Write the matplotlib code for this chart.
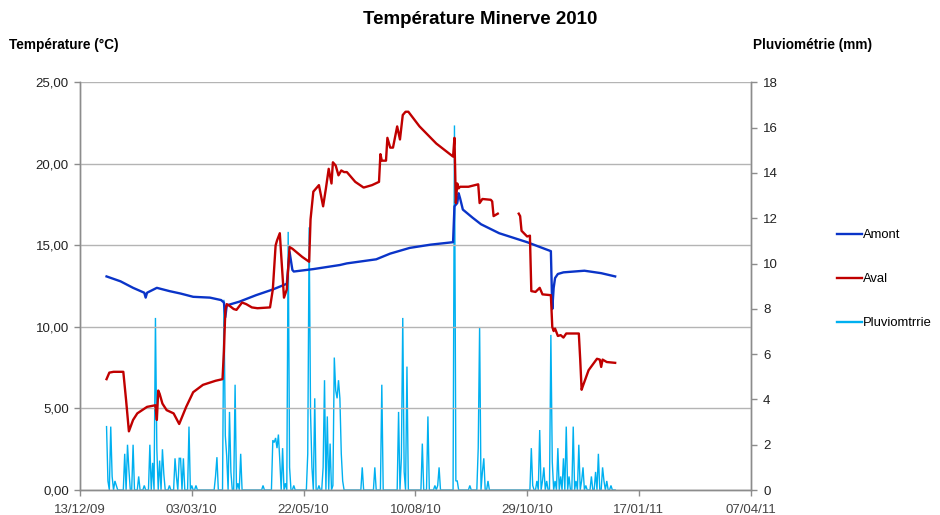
import numpy as np
import pandas as pd
import matplotlib
matplotlib.use("Agg")
import matplotlib.pyplot as plt
import matplotlib.dates as mdates
from matplotlib.lines import Line2D
from matplotlib.ticker import FuncFormatter

plt.rcParams['font.family'] = ['Liberation Sans', 'DejaVu Sans']

START = pd.Timestamp("2010-01-01")

# Température amont (°C) : jour de l'année (0 = 1er janvier 2010) et valeur
amont_day = [0, 10, 19, 27, 28, 29, 36, 45, 53, 62, 74, 82, 84, 85, 86, 87, 95, 107, 119, 129,
             131, 133, 134, 148, 167, 172, 193, 203, 217, 232, 248, 249, 251, 252, 253, 255,
             262, 268, 281, 301, 318, 319, 320, 321, 323, 327, 342, 354, 364]
amont_temp = [13.1, 12.8, 12.4, 12.1, 11.8, 12.1, 12.4, 12.2, 12.05, 11.85, 11.8, 11.65, 11.5, 10.6, 11.3,
              11.35, 11.55, 11.95, 12.3, 12.65, 14.6, 13.5, 13.4, 13.55, 13.8, 13.9, 14.15, 14.5,
              14.85, 15.05, 15.2, 17.4, 17.6, 18.2, 17.9, 17.2, 16.7, 16.3, 15.75, 15.2,
              14.65, 11.1, 12.4, 13.0, 13.25, 13.35, 13.45, 13.3, 13.1]

# Température aval (°C) ; NaN = lacune de mesure
aval_day = [0, 2, 5, 12, 14, 16, 19, 22, 29, 35, 36, 37, 38, 40, 43, 48, 52, 57, 62, 69, 78, 83,
            84, 85, 86, 88, 91, 93, 97, 100, 104, 108, 117, 119, 121, 122, 124, 125, 127, 129,
            131, 133, 140, 145, 146, 148, 152, 155, 157, 159, 161, 162, 164, 166, 168, 170, 172,
            178, 184, 190, 195, 196, 197, 200, 201, 203, 205, 208, 210, 212, 214, 216, 224,
            236, 248, 249, 250, 251, 252, 253, 259, 266, 267, 269, 275, 276, 277, 280, 288,
            295, 296, 297, 301, 303, 304, 307, 310, 312, 318, 319, 320, 321, 323, 325, 327, 329,
            338, 339, 340, 341, 345, 351, 353, 354, 355, 358, 364]
aval_temp = [6.8, 7.2, 7.25, 7.25, 5.5, 3.6, 4.3, 4.7, 5.1, 5.2, 4.3, 6.1, 5.9, 5.3, 4.9, 4.7,
             4.05, 5.1, 6.0, 6.45, 6.7, 6.8, 8.5, 11.0, 11.4, 11.3, 11.1, 11.05, 11.5, 11.4, 11.2,
             11.15, 11.2, 12.3, 15.0, 15.3, 15.75, 14.4, 11.8, 12.3, 14.9, 14.8, 14.3, 14.0,
             16.6, 18.3, 18.7, 17.4, 18.5, 19.7, 18.8, 20.1, 19.9, 19.3, 19.6, 19.5, 19.5,
             18.9, 18.55, 18.7, 18.9, 20.6, 20.2, 20.2, 21.6, 21.0, 21.0, 22.3, 21.5, 23.0,
             23.2, 23.2, 22.3, 21.25, 20.45, 21.6, 17.6, 18.8, 18.5, 18.6, 18.6, 18.75, 17.6,
             17.85, 17.8, 17.7, 16.8, 16.95, np.nan, 16.95, 16.8, 15.9, 15.55, 15.6, 12.2,
             12.15, 12.4, 12.0, 11.95, 10.0, 9.75, 9.9, 9.45, 9.5, 9.35, 9.6, 9.6, 8.0, 6.15,
             6.4, 7.35, 8.05, 8.0, 7.55, 8.0, 7.85, 7.8]

# Pluviométrie journalière (mm) : jours de pluie et hauteur relevée
rain_day = [0, 1, 3, 4, 6, 7, 13, 15, 16, 19, 23, 27, 31, 33, 35, 36, 38, 40, 41, 45, 49, 50,
            52, 53, 55, 59, 61, 64, 78, 79, 84, 85, 86, 88, 89, 92, 94, 96, 112, 119, 120, 121,
            122, 123, 124, 126, 128, 130, 131, 134, 144, 145, 146, 147, 149, 152, 155, 156, 158,
            160, 162, 163, 164, 165, 166, 167, 168, 169, 183, 192, 197, 209, 211, 212, 213, 215,
            226, 230, 235, 237, 238, 249, 250, 251, 260, 266, 267, 269, 270, 273, 304, 305,
            308, 310, 312, 313, 315, 318, 319, 321, 323, 325, 327, 329, 331, 334, 336, 338,
            340, 341, 343, 347, 350, 352, 355, 356, 358, 361]
rain_mm = [2.8, 0.4, 2.8, 0.6, 0.4, 0.2, 1.6, 2.0, 0.9, 2.0, 0.6, 0.2, 2.0, 1.2, 7.6, 1.8, 1.3,
           1.8, 0.7, 0.2, 1.4, 0.6, 1.4, 1.4, 1.4, 2.8, 0.2, 0.2, 0.6, 1.45, 8.4, 2.4, 1.5,
           3.45, 0.8, 4.65, 0.3, 1.6, 0.2, 2.2, 2.1, 2.3, 1.85, 2.45, 1.3, 1.85, 0.3, 11.4,
           1.0, 0.2, 1.6, 11.6, 3.4, 1.0, 4.05, 0.2, 1.0, 4.85, 3.25, 2.05, 0.2, 5.85, 4.4,
           4.05, 4.85, 4.05, 1.6, 0.4, 1.0, 1.0, 4.65, 3.45, 1.4, 7.6, 0.8, 5.45, 2.05, 3.25,
           0.2, 0.2, 1.0, 16.1, 0.4, 0.4, 0.2, 1.85, 7.2, 0.8, 1.4, 0.4, 1.85, 0.2, 0.4, 2.65,
           0.4, 1.0, 0.4, 6.85, 1.25, 0.4, 1.85, 0.6, 1.4, 2.8, 0.6, 2.8, 0.4, 2.0, 0.4, 1.0,
           0.2, 0.6, 0.8, 1.6, 1.0, 0.4, 0.4, 0.2]

# Axe des dates et graduations
x_start, x_end = "2009-12-13", "2011-04-07"
x_ticks = ["2009-12-13", "2010-03-03", "2010-05-22", "2010-08-10", "2010-10-29",
           "2011-01-17", "2011-04-07"]
temp_ticks = [0, 5, 10, 15, 20, 25]
rain_ticks = [0, 2, 4, 6, 8, 10, 12, 14, 16, 18]

C_AMONT = "#0a34c8"
C_AVAL = "#c00000"
C_PLUIE = "#00b0f0"
C_AXIS = "#8c8c8c"
C_GRID = "#b4b4b4"

def to_dates(days):
    return START + pd.to_timedelta(np.asarray(days), unit="D")

fig = plt.figure(figsize=(9.4, 5.15), dpi=100)
ax = fig.add_axes([0.0851, 0.0485, 0.7135, 0.7915])
ax2 = ax.twinx()

# pluie : série journalière complète (jours secs à zéro)
daily = np.zeros(365)
daily[np.asarray(rain_day)] = rain_mm
ax2.plot(to_dates(np.arange(365)), daily, color=C_PLUIE, lw=1.0, solid_joinstyle="miter")

ax.plot(to_dates(amont_day), amont_temp, color=C_AMONT, lw=1.7)
ax.plot(to_dates(aval_day), aval_temp, color=C_AVAL, lw=1.7)

# températures au premier plan
ax.set_zorder(ax2.get_zorder() + 1)
ax.patch.set_visible(False)

ax.set_xlim(pd.Timestamp(x_start), pd.Timestamp(x_end))
ax.set_ylim(0, 25)
ax2.set_ylim(0, 18)
ax.set_xticks(pd.to_datetime(x_ticks))
ax.xaxis.set_major_formatter(mdates.DateFormatter("%d/%m/%y"))
ax.set_yticks(temp_ticks)
ax.yaxis.set_major_formatter(FuncFormatter(lambda v, p: f"{v:.2f}".replace(".", ",")))
ax2.set_yticks(rain_ticks)

ax.grid(axis="y", color=C_GRID, lw=1.0)
ax.set_axisbelow(True)

for a in (ax, ax2):
    a.spines["top"].set_visible(False)
    for s in ("left", "right", "bottom"):
        a.spines[s].set_color(C_AXIS)
        a.spines[s].set_linewidth(1.0)
    a.tick_params(color=C_AXIS, length=4, width=1.0)

ax.tick_params(axis="y", labelsize=9.5, labelcolor="#222222", pad=4)
ax.tick_params(axis="x", labelsize=9.5, labelcolor="#444444", pad=6)
ax2.tick_params(axis="y", labelsize=9.5, labelcolor="#222222", pad=5)

fig.text(0.511, 0.962, "Température Minerve 2010", ha="center", va="center",
         fontsize=13.5, fontweight="bold")
fig.text(0.010, 0.912, "Température (°C)", ha="left", va="center", fontsize=9.8,
         fontweight="bold")
fig.text(0.801, 0.912, "Pluviométrie (mm)", ha="left", va="center", fontsize=9.8,
         fontweight="bold")

handles = [Line2D([], [], color=C_AMONT, lw=1.7),
           Line2D([], [], color=C_AVAL, lw=1.7),
           Line2D([], [], color=C_PLUIE, lw=1.7)]
fig.legend(handles, ["Amont", "Aval", "Pluviomtrrie"], loc="center left",
           bbox_to_anchor=(0.882, 0.458), frameon=False, fontsize=9.4,
           handlelength=1.9, handletextpad=0.12, labelspacing=2.45, borderaxespad=0.2)

fig.savefig("out.png", dpi=100)
